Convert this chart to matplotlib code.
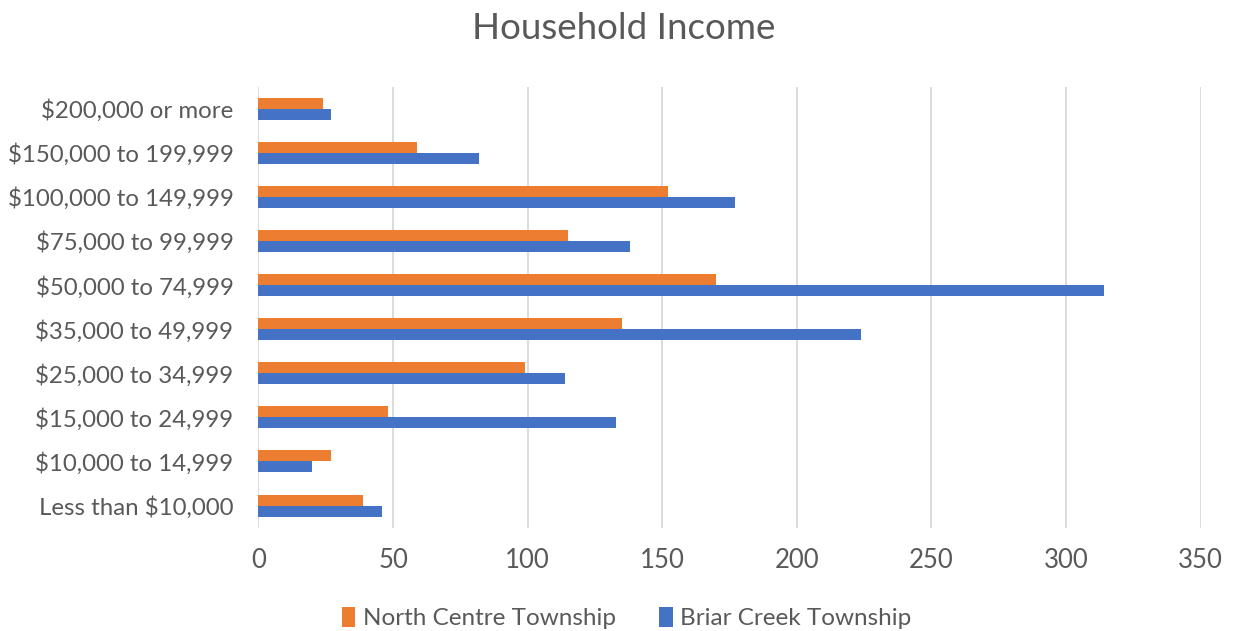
import matplotlib
matplotlib.use("Agg")
import matplotlib.pyplot as plt
import numpy as np

categories = ["Less than $10,000", "$10,000 to 14,999", "$15,000 to 24,999",
              "$25,000 to 34,999", "$35,000 to 49,999", "$50,000 to 74,999",
              "$75,000 to 99,999", "$100,000 to 149,999", "$150,000 to 199,999",
              "$200,000 or more"]
north_centre = [39, 27, 48, 99, 135, 170, 115, 152, 59, 24]
briar_creek = [46, 20, 133, 114, 224, 314, 138, 177, 82, 27]
x_ticks = [0, 50, 100, 150, 200, 250, 300, 350]

plt.rcParams['font.family'] = ['Lato', 'DejaVu Sans']
grey = '#595959'

fig = plt.figure(figsize=(12.36, 6.31), dpi=100)
ax = fig.add_axes([0.2091, 0.1639, 0.9714 - 0.2091, 0.8626 - 0.1639])

y = np.arange(len(categories))
h = 0.25
ax.barh(y + h / 2, north_centre, height=h, color='#ED7D31', label='North Centre Township', zorder=3)
ax.barh(y - h / 2, briar_creek, height=h, color='#4472C4', label='Briar Creek Township', zorder=3)

ax.set_xlim(0, 350)
ax.set_ylim(-0.5, len(categories) - 0.5)
ax.set_xticks(x_ticks)
ax.set_xticklabels([str(v) for v in x_ticks])
ax.set_yticks(y)
ax.set_yticklabels(categories)
ax.grid(axis='x', color='#D9D9D9', linewidth=1.3, zorder=0)
for s in ax.spines.values():
    s.set_visible(False)
ax.tick_params(axis='both', length=0, colors=grey)
ax.tick_params(axis='x', pad=15, labelsize=18.5)
ax.tick_params(axis='y', pad=18, labelsize=17.3)

fig.text(0.505, 0.955, 'Household Income', ha='center', va='center', fontsize=26.5, color=grey)

leg = fig.legend(loc='center', bbox_to_anchor=(0.507, 0.021), ncol=2, frameon=False,
                 fontsize=17.5, handlelength=0.55, handleheight=0.9, handletextpad=0.3,
                 columnspacing=1.8)
for t in leg.get_texts():
    t.set_color(grey)

fig.savefig('out.png', dpi=100, facecolor='white')
